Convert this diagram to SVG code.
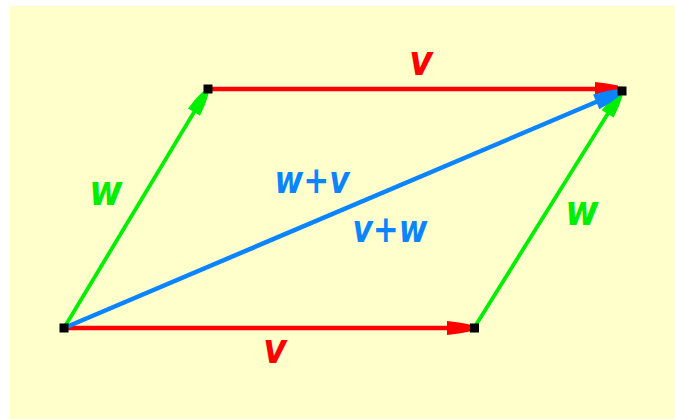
<svg xmlns="http://www.w3.org/2000/svg" width="675" height="419" viewBox="0 0 675 419">
<defs>
<style>
.lbl{font-family:"DejaVu Sans","Verdana",sans-serif;font-weight:bold;font-style:oblique;text-anchor:middle}
.big{font-size:42px}
.mid{font-size:37px}
.red{fill:#FF0000}
.grn{fill:#00EE00}
.blu{fill:#0A84FF}
.pt{fill:#000000}
</style>
<marker id="hr" markerUnits="userSpaceOnUse" markerWidth="30" markerHeight="20" viewBox="-25 -10 30 20" refX="4" refY="0" orient="auto">
<polygon points="-23,-7 -11,-5.5 0,-3.5 0,3.5 -11,5.5 -23,7" fill="#FF0000"/>
</marker>
<marker id="hg" markerUnits="userSpaceOnUse" markerWidth="30" markerHeight="20" viewBox="-25 -10 30 20" refX="4" refY="0" orient="auto">
<polygon points="-23,-7 -11,-5.5 0,-3 0,3 -11,5.5 -23,7" fill="#00EE00"/>
</marker>
<marker id="hb" markerUnits="userSpaceOnUse" markerWidth="30" markerHeight="20" viewBox="-25 -10 30 20" refX="4" refY="0" orient="auto">
<polygon points="-24,-8 -11,-6 0,-3.5 0,3.5 -11,6 -24,8" fill="#0A84FF"/>
</marker>
</defs>
<rect x="0" y="0" width="675" height="419" fill="#FFFFFF"/>
<rect x="10" y="6" width="665" height="413" fill="#FFFFCC"/>
<g id="connectors">
<line x1="64" y1="328" x2="474" y2="328" stroke="#FF0000" stroke-width="4.5" marker-end="url(#hr)"/>
<line x1="208" y1="89" x2="622" y2="89" stroke="#FF0000" stroke-width="4.5" marker-end="url(#hr)"/>
<line x1="64" y1="328" x2="208" y2="89" stroke="#00EE00" stroke-width="3.8" marker-end="url(#hg)"/>
<line x1="474" y1="328" x2="622" y2="91" stroke="#00EE00" stroke-width="3.8" marker-end="url(#hg)"/>
<line x1="64" y1="328" x2="622" y2="91" stroke="#0A84FF" stroke-width="4.5" marker-end="url(#hb)"/>
</g>
<g id="A"><rect class="pt" x="59.5" y="323.5" width="9" height="9"/></g>
<g id="B"><rect class="pt" x="203.5" y="84.5" width="9" height="9"/></g>
<g id="C"><rect class="pt" x="617.5" y="86.5" width="9" height="9"/></g>
<g id="D"><rect class="pt" x="470" y="323.5" width="9" height="9"/></g>
<g id="labels">
<text class="lbl big red" transform="translate(421,75) scale(0.86,1)">v</text>
<text class="lbl big grn" transform="translate(106,205) scale(0.86,1)">w</text>
<text class="lbl big grn" transform="translate(582,225) scale(0.86,1)">w</text>
<text class="lbl big red" transform="translate(275,363) scale(0.86,1)">v</text>
<text class="lbl mid blu" transform="translate(312,193) scale(0.84,1)">w+v</text>
<text class="lbl mid blu" transform="translate(390,242) scale(0.84,1)">v+w</text>
</g>
</svg>
